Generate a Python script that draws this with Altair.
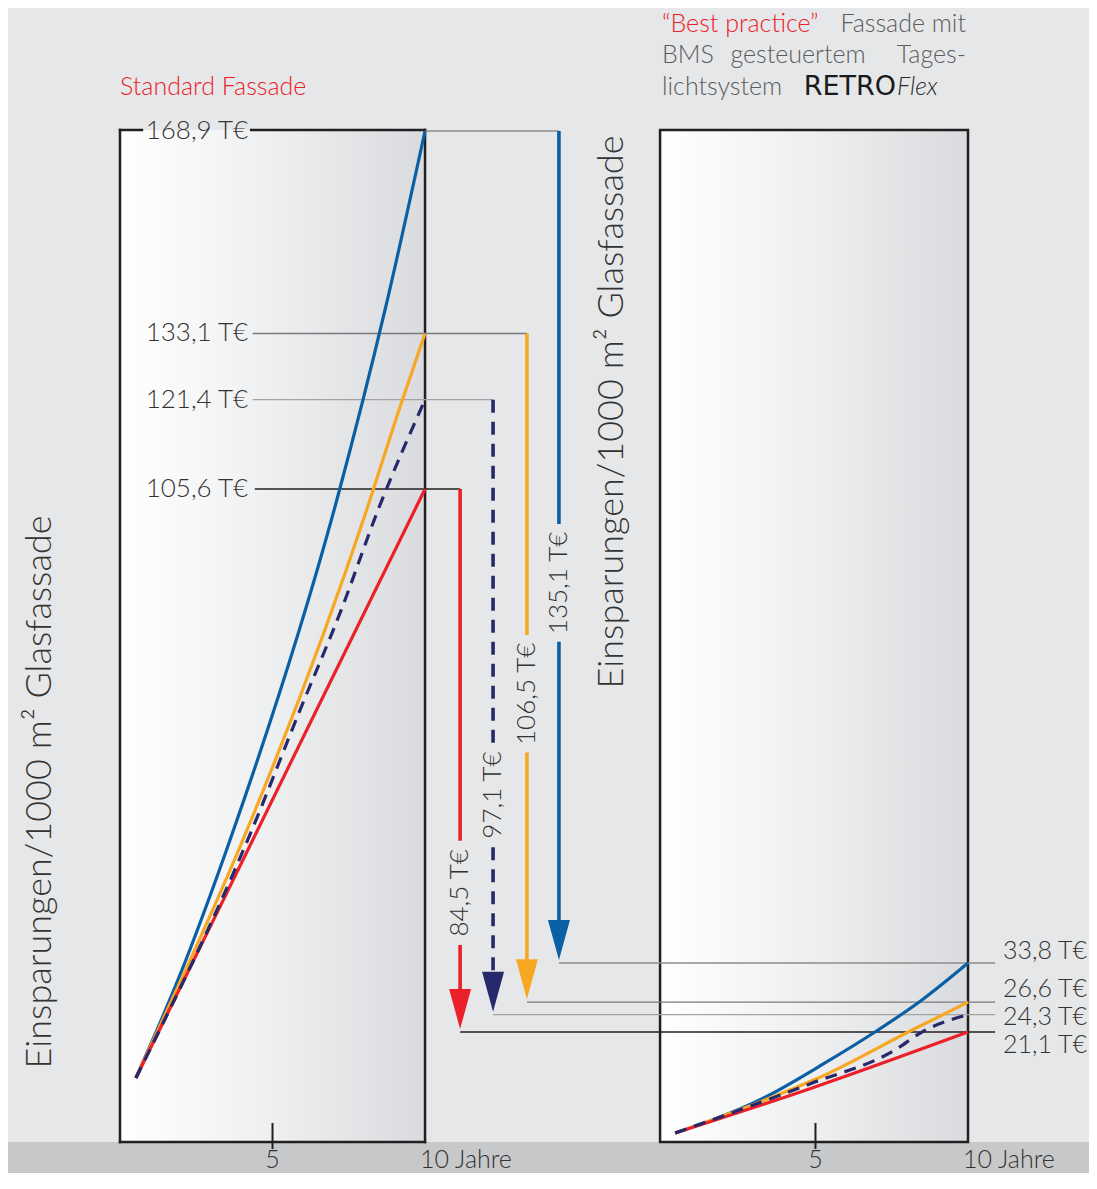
import altair as alt
import pandas as pd

# ------------------------------------------------------------------ data
series = ["blau", "orange", "navy", "rot"]
left_end = [168.9, 133.1, 121.4, 105.6]     # T€ nach 10 Jahren, Standard Fassade
right_end = [33.8, 26.6, 24.3, 21.1]        # T€ nach 10 Jahren, Best practice
savings = [135.1, 106.5, 97.1, 84.5]        # Differenz

# curves, left panel (Jahre, T€)
L_blau_x = [0.52, 1.90, 3.61, 7.11, 8.69, 10.0]
L_blau_y = [1.47, 18.8, 43.6, 103.7, 137.3, 168.9]
L_orange_x = [0.52, 2.00, 3.93, 8.13, 9.08, 10.0]
L_orange_y = [1.47, 18.75, 42.3, 102.6, 118.5, 133.1]
L_navy_x = [0.52, 4.26, 5.90, 7.25, 8.46, 10.0]
L_navy_y = [1.47, 44.5, 66.5, 84.2, 101.9, 121.4]
L_rot_x = [0.52, 10.0]
L_rot_y = [1.47, 105.6]

# curves, right panel (Jahre, T€)
R_blau_x = [0.40, 3.35, 5.31, 6.95, 8.49, 10.0]
R_blau_y = [2.5, 9.1, 15.4, 21.1, 27.0, 33.8]
R_orange_x = [0.40, 3.35, 5.31, 8.04, 10.0]
R_orange_y = [2.5, 8.6, 13.2, 21.1, 26.6]
R_navy_x = [0.40, 4.89, 7.61, 8.49, 10.0]
R_navy_y = [2.5, 11.7, 17.8, 21.1, 24.3]
R_rot_x = [0.40, 4.89, 10.0]
R_rot_y = [2.5, 10.8, 21.1]

tick_values = [5, 10]
tick_texts = ["5", "10 Jahre"]

title_left = "Standard Fassade"
axis_title = "Einsparungen/1000 m² Glasfassade"

# ------------------------------------------------------------------ layout / style
def fmt(v):
    return f"{v:.1f}".replace(".", ",") + " T€"

FONT = "Lato"
FW = 300
TXT = "#333333"
GRAYTXT = "#5b5c5e"
RED = "#ec2028"
colors = ["#0b5fa5", "#f7a823", "#26296b", "#ec2028"]
conn_colors = ["#8c8c8e", "#7a7a7c", "#a3a3a5", "#231f20"]
BORDER = "#231f20"

Y_PX = 5.656          # px per T€ (left scale)
X_PX = 30.5           # px per year
R_X0 = 17.8           # right panel year 0 in shared x
R_K = 5.43 / Y_PX     # right panel scale relative to left
R_B = (1086.3 - 1146.6) / Y_PX
Y_MAX = (1086.3 - 130) / Y_PX
Y_MIN = (1086.3 - 1142) / Y_PX
X_MAX = 27.8

def sr(v):
    return R_K * v + R_B

arrow_x = [14.39, 13.34, 12.23, 11.15]
label_c = [89.0, 69.4, 51.5, 34.2]
right_lab_off = [-12, -13, 2, 13]

XS = alt.Scale(domain=[0, X_MAX], nice=False, zero=False)
YS = alt.Scale(domain=[Y_MIN, Y_MAX], nice=False, zero=False)


def X(f):
    return alt.X(f, type="quantitative", scale=XS, axis=None)


def Y(f):
    return alt.Y(f, type="quantitative", scale=YS, axis=None)


grad = alt.Gradient(
    gradient="linear",
    stops=[alt.GradientStop(color="#ffffff", offset=0),
           alt.GradientStop(color="#eeeff0", offset=0.5),
           alt.GradientStop(color="#dadbde", offset=1)],
    x1=0, x2=1, y1=0, y2=0,
)

layers = []

# bottom strip
strip = pd.DataFrame({"x0": [-3.7], "x1": [31.8], "y0": [Y_MIN], "y1": [-17.0]})
layers.append(alt.Chart(strip).mark_rect(color="#c7c8ca").encode(
    x=X("x0"), x2="x1", y=Y("y0"), y2="y1"))

# panels
panL = pd.DataFrame({"x0": [0.0], "x1": [10.0], "y0": [Y_MIN], "y1": [Y_MAX]})
panR = pd.DataFrame({"x0": [17.705], "x1": [X_MAX], "y0": [Y_MIN], "y1": [Y_MAX]})
layers.append(alt.Chart(panL).mark_rect(fill=grad).encode(
    x=X("x0"), x2="x1", y=Y("y0"), y2="y1"))
layers.append(alt.Chart(panR).mark_rect(fill=grad, stroke=BORDER, strokeWidth=2.5).encode(
    x=X("x0"), x2="x1", y=Y("y0"), y2="y1"))

# left panel border (top edge interrupted by the label)
bord = pd.DataFrame({
    "x0": [0, 10, 0, 0, 4.3],
    "x1": [0, 10, 10, 0.72, 10],
    "y0": [Y_MIN, Y_MIN, Y_MIN, Y_MAX, Y_MAX],
    "y1": [Y_MAX, Y_MAX, Y_MIN, Y_MAX, Y_MAX],
})
layers.append(alt.Chart(bord).mark_rule(color=BORDER, strokeWidth=2.5, strokeCap="square").encode(
    x=X("x0"), x2="x1", y=Y("y0"), y2="y1"))

# ticks at 5
ticks = pd.DataFrame({"x": [5, R_X0 + 5], "y0": [(1086.3 - 1123) / Y_PX] * 2,
                      "y1": [(1086.3 - 1149) / Y_PX] * 2})
layers.append(alt.Chart(ticks).mark_rule(color=BORDER, strokeWidth=2).encode(
    x=X("x"), y=Y("y0"), y2="y1"))

# connectors
rows = []
starts = [10.0, 4.35, 4.35, 4.42]
for i in range(4):
    rows.append({"x0": starts[i], "x1": arrow_x[i], "y": left_end[i], "c": conn_colors[i]})
    rows.append({"x0": arrow_x[i], "x1": 28.69, "y": sr(right_end[i]), "c": conn_colors[i]})
conn = pd.DataFrame(rows)
layers.append(alt.Chart(conn).mark_rule(strokeWidth=1.4).encode(
    x=X("x0"), x2="x1", y=Y("y"), color=alt.Color("c:N", scale=None)))

# curves
curves = {
    "blau": (L_blau_x, L_blau_y, R_blau_x, R_blau_y),
    "orange": (L_orange_x, L_orange_y, R_orange_x, R_orange_y),
    "navy": (L_navy_x, L_navy_y, R_navy_x, R_navy_y),
    "rot": (L_rot_x, L_rot_y, R_rot_x, R_rot_y),
}
for name in ["blau", "orange", "rot", "navy"]:
    lx, ly, rx, ry = curves[name]
    d = pd.DataFrame({
        "panel": ["L"] * len(lx) + ["R"] * len(rx),
        "x": list(lx) + [R_X0 + v for v in rx],
        "y": list(ly) + [sr(v) for v in ry],
    })
    kw = dict(interpolate="monotone", strokeWidth=3.2, color=colors[series.index(name)])
    if name == "navy":
        kw["strokeDash"] = [12, 8]
    layers.append(alt.Chart(d).mark_line(**kw).encode(
        x=X("x"), y=Y("y"), detail="panel:N", order="x:Q"))

# arrows
HEAD = 40.0
srows = []
hrows = []
for i in range(4):
    txt = fmt(savings[i])
    gap = (len(txt) * 6.6 + 6) / Y_PX
    tip = sr(right_end[i]) + 3 / Y_PX
    hc = tip + (HEAD / 2) / Y_PX
    dash = "d" if series[i] == "navy" else "s"
    srows.append({"s": series[i], "dash": dash, "x": arrow_x[i], "y0": left_end[i], "y1": label_c[i] + gap})
    srows.append({"s": series[i], "dash": dash, "x": arrow_x[i], "y0": label_c[i] - gap, "y1": hc})
    hrows.append({"s": series[i], "x": arrow_x[i], "y": hc, "t": txt, "yl": label_c[i]})
shafts = pd.DataFrame(srows)
heads = pd.DataFrame(hrows)
cscale = alt.Scale(domain=series, range=colors)
layers.append(alt.Chart(shafts).mark_rule(strokeWidth=3.6, strokeCap="butt").encode(
    x=X("x"), y=Y("y0"), y2="y1",
    color=alt.Color("s:N", scale=cscale, legend=None),
    strokeDash=alt.StrokeDash("dash:N", scale=alt.Scale(domain=["s", "d"], range=[[1, 0], [13, 9]]), legend=None)))
layers.append(alt.Chart(heads).mark_point(
    shape="M-0.55,-1L0.55,-1L0,1Z", filled=True, size=HEAD * HEAD, opacity=1, strokeWidth=0).encode(
    x=X("x"), y=Y("y"), color=alt.Color("s:N", scale=cscale, legend=None)))
layers.append(alt.Chart(heads).mark_text(
    angle=270, align="center", baseline="middle", font=FONT, fontWeight=FW, fontSize=26, color=TXT).encode(
    x=X("x"), y=Y("yl"), text="t:N"))

# value labels
ll = pd.DataFrame({"x": [4.2] * 4, "y": left_end, "t": [fmt(v) for v in left_end]})
layers.append(alt.Chart(ll).mark_text(
    align="right", baseline="middle", font=FONT, fontWeight=FW, fontSize=26, color=TXT).encode(
    x=X("x"), y=Y("y"), text="t:N"))
rl = pd.DataFrame({"x": [28.95] * 4,
                   "y": [sr(v) - o / Y_PX for v, o in zip(right_end, right_lab_off)],
                   "t": [fmt(v) for v in right_end]})
layers.append(alt.Chart(rl).mark_text(
    align="left", baseline="middle", font=FONT, fontWeight=FW, fontSize=25, color=TXT).encode(
    x=X("x"), y=Y("y"), text="t:N"))

# x tick labels
ty = (1086.3 - 1168) / Y_PX
t5 = pd.DataFrame({"x": [tick_values[0], R_X0 + tick_values[0]], "y": [ty, ty], "t": [tick_texts[0]] * 2})
t10 = pd.DataFrame({"x": [tick_values[1], R_X0 + tick_values[1]], "y": [ty, ty], "t": [tick_texts[1]] * 2})
layers.append(alt.Chart(t5).mark_text(
    align="center", baseline="alphabetic", font=FONT, fontWeight=FW, fontSize=25, color=TXT).encode(
    x=X("x"), y=Y("y"), text="t:N"))
layers.append(alt.Chart(t10).mark_text(
    align="left", baseline="alphabetic", font=FONT, fontWeight=FW, fontSize=25, color=TXT, dx=-5).encode(
    x=X("x"), y=Y("y"), text="t:N"))


# titles (page pixel positions -> plot origin at 120,130)
def label(text, x, y, size, color, align="left", baseline="alphabetic", angle=0,
          weight=FW, style="normal", font=FONT):
    kw = dict(align=align, baseline=baseline, font=font, fontSize=size, color=color,
              fontWeight=weight, fontStyle=style)
    if angle:
        kw["angle"] = angle
    return alt.Chart(pd.DataFrame({"t": [text]})).mark_text(**kw).encode(
        x=alt.value(x - 120), y=alt.value(y - 130), text="t:N")


layers.append(label(title_left, 120, 95, 25, RED))
layers.append(label("“Best practice”", 662, 32, 25, RED))
layers.append(label("Fassade mit", 966, 32, 25, GRAYTXT, align="right"))
layers.append(label("BMS", 662, 63, 25, GRAYTXT))
layers.append(label("gesteuertem", 798, 63, 25, GRAYTXT, align="center"))
layers.append(label("Tages-", 966, 63, 25, GRAYTXT, align="right"))
layers.append(label("lichtsystem", 662, 95, 25, GRAYTXT))
layers.append(label("RETRO", 896, 95, 27, "#1a1a1a", align="right", font="DejaVu Sans", weight="normal"))
layers.append(label("Flex", 897, 95, 25, "#2a2a2a", style="italic"))
layers.append(label(axis_title, 40, 792, 36, TXT, align="center", baseline="middle", angle=270))
layers.append(label(axis_title, 612, 412, 36, TXT, align="center", baseline="middle", angle=270))

chart = alt.layer(*layers).properties(
    width=848, height=1012,
    padding={"left": 112, "top": 122, "right": 121, "bottom": 31},
    autosize=alt.AutoSizeParams(type="none"),
    background="#e6e7e8",
).configure_view(strokeWidth=0)

chart.save("out.html", embed_options={"renderer": "svg", "actions": False})
